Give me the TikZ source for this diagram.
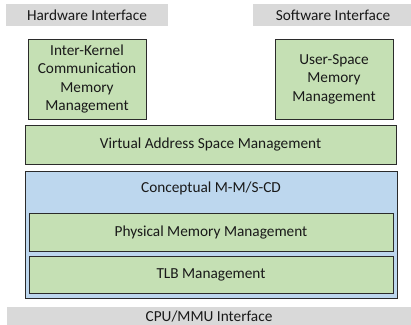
\documentclass[tikz,border=0pt]{standalone}
\usepackage{fontspec}
\setmainfont{Carlito}
\definecolor{ifgray}{HTML}{D9D9D9}
\definecolor{lgreen}{HTML}{C5E0B4}
\definecolor{lblue}{HTML}{BDD7EE}
\definecolor{edge}{HTML}{2B2B2B}
\begin{document}
\begin{tikzpicture}[x=1pt,y=-1pt,
  base/.style={anchor=north west,inner sep=0pt,outer sep=0pt,align=center,
    font=\fontsize{15.3}{18.6}\selectfont,text=black!90},
  iface/.style={base,fill=ifgray},
  gbox/.style={base,fill=lgreen,draw=edge,line width=0.8pt},
  bbox/.style={base,fill=lblue,draw=edge,line width=0.8pt}]
\useasboundingbox (0,0) rectangle (411,324);
\begin{scope}
\clip (0,0) rectangle (411,324);
\node[iface,minimum width=162,minimum height=22] (hw) at (6,4) {Hardware Interface};
\node[iface,minimum width=160,minimum height=22] (sw) at (253,4) {Software Interface};
\node[gbox,minimum width=118,minimum height=80] (ik) at (28,39) {Inter-Kernel\\Communication\\Memory\\Management};
\node[gbox,minimum width=118,minimum height=80] (us) at (275,39) {User-Space\\Memory\\Management};
\node[gbox,minimum width=371,minimum height=39] (va) at (25,125) {Virtual Address Space Management};
\node[bbox,minimum width=372,minimum height=127] (cc) at (25,171) {};
\node[base,anchor=center] (cct) at (211,188) {Conceptual M-M/S-CD};
\node[gbox,minimum width=364,minimum height=38] (pm) at (29,213) {Physical Memory Management};
\node[gbox,minimum width=364,minimum height=37] (tlb) at (29,256) {TLB Management};
\node[iface,minimum width=406,minimum height=20] (cpu) at (7,307) {};
\node[base,anchor=base] (cput) at (209,321.5) {CPU/MMU Interface};
\end{scope}
\end{tikzpicture}
\end{document}
